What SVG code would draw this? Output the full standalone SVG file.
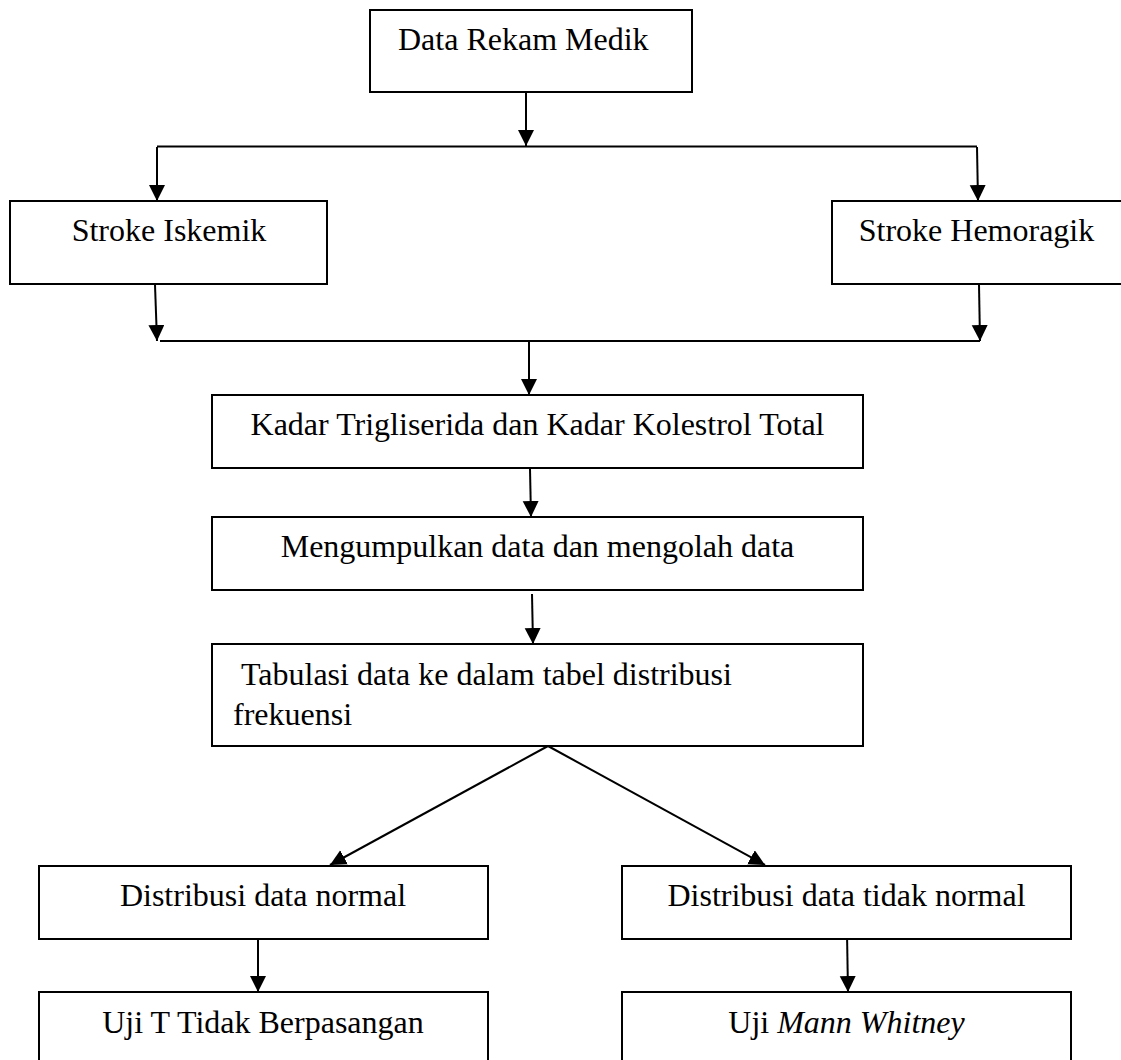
<svg xmlns="http://www.w3.org/2000/svg" width="1121" height="1060" viewBox="0 0 1121 1060">
<style>
.box{fill:#fff;stroke:#000;stroke-width:2}
.t{font-family:"Liberation Serif","Times New Roman",serif;font-size:32px;fill:#000}
.c{text-anchor:middle}
.ln{stroke:#000;stroke-width:2;fill:none}
.ar{stroke:#000;stroke-width:2;fill:none;marker-end:url(#ah)}
</style>
<defs>
<marker id="ah" markerUnits="userSpaceOnUse" markerWidth="17" markerHeight="17" viewBox="0 0 17 17" refX="16" refY="8" orient="auto">
<path d="M0,0 L16,8 L0,16 z" fill="#000"/>
</marker>
</defs>
<rect width="1121" height="1060" fill="#fff"/>
<g id="connectors">
<line class="ar" x1="526" y1="93" x2="526" y2="146"/>
<line class="ln" x1="157" y1="146.5" x2="977" y2="146.5"/>
<line class="ar" x1="157" y1="147" x2="157" y2="201"/>
<line class="ar" x1="977" y1="147" x2="978" y2="201"/>
<line class="ar" x1="155" y1="285" x2="157" y2="341"/>
<line class="ar" x1="979" y1="285" x2="980" y2="341"/>
<line class="ln" x1="160" y1="341" x2="980" y2="341"/>
<line class="ar" x1="529" y1="341" x2="529" y2="395"/>
<line class="ar" x1="530" y1="469" x2="531" y2="517"/>
<line class="ar" x1="532" y1="594" x2="533" y2="644"/>
<line class="ar" x1="548" y1="746" x2="330" y2="865"/>
<line class="ar" x1="548" y1="746" x2="765" y2="865"/>
<line class="ar" x1="258" y1="933" x2="258" y2="992"/>
<line class="ar" x1="847" y1="933" x2="848" y2="992"/>
</g>
<g id="node-data-rekam-medik">
<rect class="box" x="370" y="10" width="322" height="82"/>
<text class="t" x="398" y="50">Data Rekam Medik</text>
</g>
<g id="node-stroke-iskemik">
<rect class="box" x="10" y="201" width="317" height="83"/>
<text class="t c" x="169" y="241">Stroke Iskemik</text>
</g>
<g id="node-stroke-hemoragik">
<rect class="box" x="832" y="201" width="300" height="83"/>
<text class="t c" x="976.5" y="241">Stroke Hemoragik</text>
</g>
<g id="node-kadar">
<rect class="box" x="212" y="395" width="651" height="73"/>
<text class="t c" x="537.5" y="435">Kadar Trigliserida dan Kadar Kolestrol Total</text>
</g>
<g id="node-mengumpulkan">
<rect class="box" x="212" y="517" width="651" height="73"/>
<text class="t c" x="537.5" y="557">Mengumpulkan data dan mengolah data</text>
</g>
<g id="node-tabulasi">
<rect class="box" x="212" y="644" width="651" height="102"/>
<text class="t" x="241" y="685">Tabulasi data ke dalam tabel distribusi</text>
<text class="t" x="233" y="725">frekuensi</text>
</g>
<g id="node-distribusi-normal">
<rect class="box" x="39" y="866" width="449" height="73"/>
<text class="t c" x="263" y="906">Distribusi data normal</text>
</g>
<g id="node-distribusi-tidak-normal">
<rect class="box" x="622" y="866" width="449" height="73"/>
<text class="t c" x="846.5" y="906">Distribusi data tidak normal</text>
</g>
<g id="node-uji-t">
<rect class="box" x="39" y="992" width="449" height="80"/>
<text class="t c" x="263" y="1033">Uji T Tidak Berpasangan</text>
</g>
<g id="node-uji-mann-whitney">
<rect class="box" x="622" y="992" width="449" height="80"/>
<text class="t c" x="846.5" y="1033">Uji <tspan font-style="italic">Mann Whitney</tspan></text>
</g>
</svg>
